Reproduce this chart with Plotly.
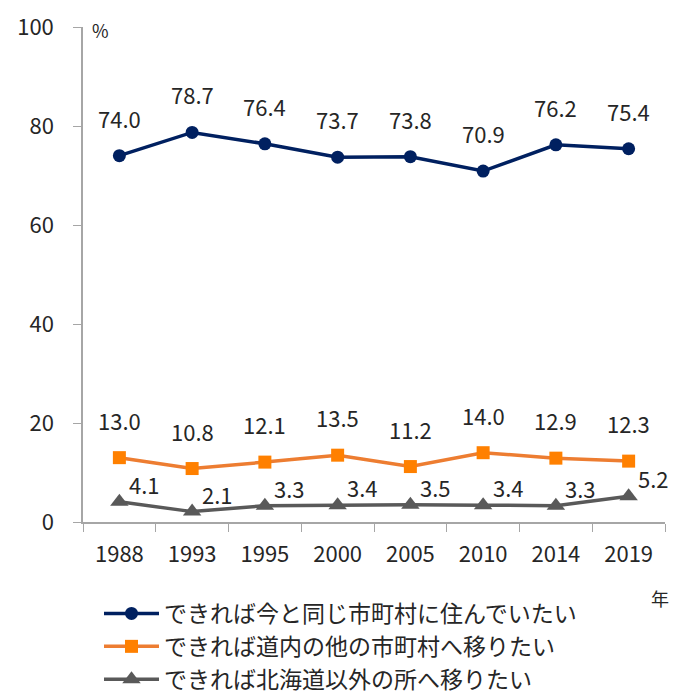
import plotly.graph_objects as go

years = ["1988", "1993", "1995", "2000", "2005", "2010", "2014", "2019"]
stay = [74.0, 78.7, 76.4, 73.7, 73.8, 70.9, 76.2, 75.4]
move_in = [13.0, 10.8, 12.1, 13.5, 11.2, 14.0, 12.9, 12.3]
move_out = [4.1, 2.1, 3.3, 3.4, 3.5, 3.4, 3.3, 5.2]
names = ["できれば今と同じ市町村に住んでいたい",
         "できれば道内の他の市町村へ移りたい",
         "できれば北海道以外の所へ移りたい"]

FONT = "Noto Sans CJK JP"
TXT = "#262626"
# page has an 8px body margin; the figure is sized to fill the rest of the window
W, H = 680, 690
L, R, T, B = 75, 23, 19, 176
PW, PH = W - L - R, H - T - B

fig = go.Figure()
fig.add_trace(go.Scatter(x=years, y=stay, name=names[0], mode="lines+markers",
                         line=dict(color="#002060", width=3.5),
                         marker=dict(symbol="circle", size=13, color="#002060")))
fig.add_trace(go.Scatter(x=years, y=move_in, name=names[1], mode="lines+markers",
                         line=dict(color="#ED7D31", width=3.5),
                         marker=dict(symbol="square", size=13, color="#FF8000")))
fig.add_trace(go.Scatter(x=years, y=move_out, name=names[2], mode="lines+markers",
                         line=dict(color="#595959", width=3.5),
                         marker=dict(symbol="triangle-up", size=16, color="#595959")))

for vals in (stay, move_in):
    for i, v in enumerate(vals):
        fig.add_annotation(x=i, y=v, text=f"{v:.1f}", showarrow=False,
                           yshift=38, font=dict(family=FONT, size=22, color=TXT))
for i, v in enumerate(move_out):
    fig.add_annotation(x=i, y=v, text=f"{v:.1f}", showarrow=False,
                       xshift=25, yshift=18, font=dict(family=FONT, size=22, color=TXT))

fig.add_annotation(xref="paper", yref="paper", x=(100 - 8 - L) / PW, y=1.0, yshift=-3,
                   text="%", showarrow=False, xanchor="center", yanchor="middle",
                   font=dict(family=FONT, size=18, color=TXT))
fig.add_annotation(xref="paper", yref="paper", x=(660 - 8 - L) / PW,
                   y=-(598 - 522) / PH, text="年", showarrow=False,
                   xanchor="center", yanchor="middle",
                   font=dict(family=FONT, size=18, color=TXT))

fig.update_layout(
    width=W, height=H,
    margin=dict(l=L, r=R, t=T, b=B, autoexpand=False),
    plot_bgcolor="white", paper_bgcolor="white",
    font=dict(family=FONT, size=22, color=TXT),
    showlegend=True,
    legend=dict(xref="container", yref="container",
                x=91 / W, y=1 - 584 / H, xanchor="left", yanchor="top",
                font=dict(family=FONT, size=23, color=TXT), itemwidth=55,
                tracegroupgap=0, bgcolor="rgba(0,0,0,0)"),
    xaxis=dict(type="category", range=[-0.5, len(years) - 0.5], showline=True,
               linecolor="#a6a6a6", linewidth=1.5, automargin=False,
               ticks="outside", tickson="boundaries", ticklen=8, tickcolor="#a6a6a6",
               showgrid=False, zeroline=False, tickangle=0, ticklabelstandoff=12,
               tickfont=dict(family=FONT, size=22, color=TXT)),
    yaxis=dict(range=[0, 100], tickvals=[0, 20, 40, 60, 80, 100], showline=True,
               linecolor="#a6a6a6", linewidth=1.5, ticks="outside", ticklen=8,
               tickcolor="#a6a6a6", showgrid=False, zeroline=False, automargin=False,
               ticklabelstandoff=15,
               tickfont=dict(family=FONT, size=22, color=TXT)),
)

fig.write_html("out.html")
